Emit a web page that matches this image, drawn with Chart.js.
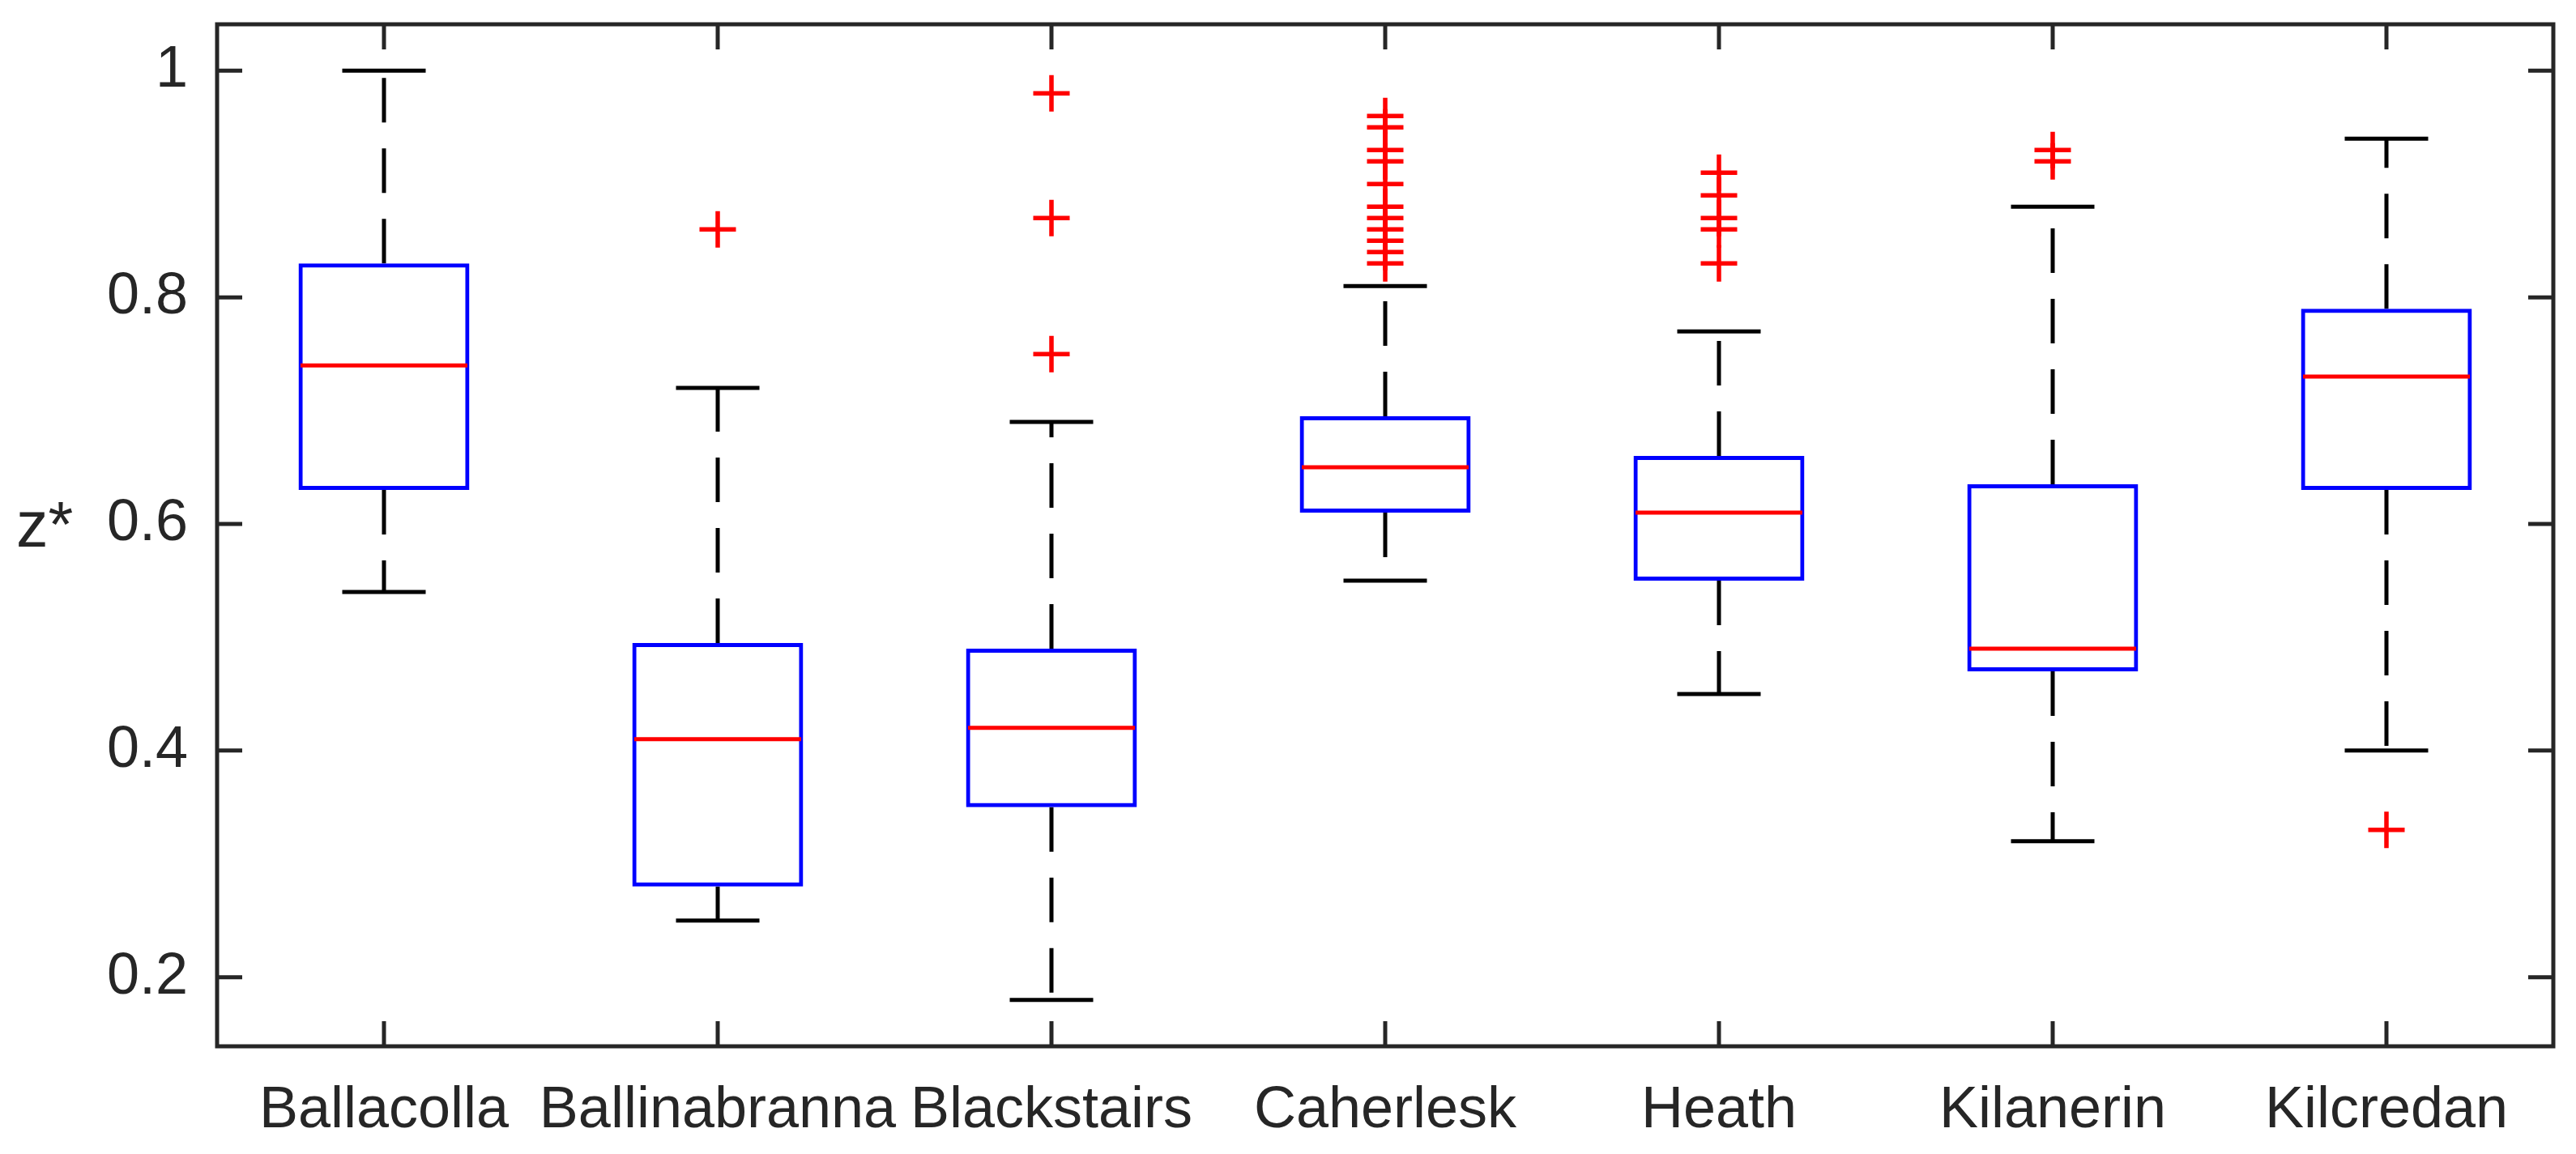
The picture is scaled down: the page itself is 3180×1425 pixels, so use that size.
<!DOCTYPE html>
<html>
<head>
<meta charset="utf-8">
<title>z* por sitio</title>
<script src="https://cdn.jsdelivr.net/npm/chart.js@4.4.1/dist/chart.umd.min.js"></script>
<style>
  html, body { margin: 0; padding: 0; background: #fff; }
  #wrap { width: 3180px; height: 1425px; }
</style>
</head>
<body>
<div id="wrap"><canvas id="chart-box"></canvas></div>
<script>
// Datos del diagrama de cajas
const sites = ['Ballacolla', 'Ballinabranna', 'Blackstairs', 'Caherlesk', 'Heath', 'Kilanerin', 'Kilcredan'];
const whiskerLow  = [0.54, 0.25, 0.18, 0.55, 0.45, 0.32, 0.40];
const q1          = [0.63, 0.28, 0.35, 0.61, 0.55, 0.47, 0.63];
const median      = [0.74, 0.41, 0.42, 0.65, 0.61, 0.49, 0.73];
const q3          = [0.83, 0.495, 0.49, 0.695, 0.66, 0.635, 0.79];
const whiskerHigh = [1.00, 0.72, 0.69, 0.81, 0.77, 0.88, 0.94];
const outliers = [
    [],
    [0.86],
    [0.75, 0.87, 0.98],
    [0.83, 0.84, 0.85, 0.86, 0.87, 0.88, 0.90, 0.92, 0.93, 0.95, 0.96],
    [0.83, 0.86, 0.87, 0.89, 0.91],
    [0.92, 0.93],
    [0.33]
];
const yTicks = [0.2, 0.4, 0.6, 0.8, 1];
const yLimits = [0.139, 1.041];

const FONT = '"Liberation Sans", Arial, Helvetica, sans-serif';
const TEXT = '#262626';
const capHalf = 0.125;
const boxHalf = 0.25;
const LW = 5;

// Bigotes, topes, medianas, marco y ticks hacia dentro
const boxParts = {
    id: 'boxParts',
    beforeDatasetsDraw(chart) {
        const { ctx, scales: { x, y } } = chart;
        ctx.save();
        ctx.strokeStyle = '#000';
        ctx.lineWidth = LW;
        sites.forEach((s, i) => {
            const px = x.getPixelForValue(i + 1);
            ctx.setLineDash([55, 32]);
            ctx.beginPath();
            ctx.moveTo(px, y.getPixelForValue(q3[i]));
            ctx.lineTo(px, y.getPixelForValue(whiskerHigh[i]));
            ctx.stroke();
            ctx.beginPath();
            ctx.moveTo(px, y.getPixelForValue(q1[i]));
            ctx.lineTo(px, y.getPixelForValue(whiskerLow[i]));
            ctx.stroke();
            ctx.setLineDash([]);
            const l = x.getPixelForValue(i + 1 - capHalf);
            const r = x.getPixelForValue(i + 1 + capHalf);
            [whiskerHigh[i], whiskerLow[i]].forEach(v => {
                const py = y.getPixelForValue(v);
                ctx.beginPath();
                ctx.moveTo(l, py);
                ctx.lineTo(r, py);
                ctx.stroke();
            });
        });
        ctx.restore();
    },
    afterDatasetsDraw(chart) {
        const { ctx, scales: { x, y } } = chart;
        ctx.save();
        ctx.strokeStyle = '#ff0000';
        ctx.lineWidth = LW;
        median.forEach((m, i) => {
            const py = y.getPixelForValue(m);
            ctx.beginPath();
            ctx.moveTo(x.getPixelForValue(i + 1 - boxHalf), py);
            ctx.lineTo(x.getPixelForValue(i + 1 + boxHalf), py);
            ctx.stroke();
        });
        ctx.restore();
    },
    afterDraw(chart) {
        const { ctx, chartArea: a, scales: { x, y } } = chart;
        ctx.save();
        ctx.strokeStyle = TEXT;
        ctx.lineWidth = LW;
        const tick = 31;
        yTicks.forEach(v => {
            const py = y.getPixelForValue(v);
            ctx.beginPath();
            ctx.moveTo(a.left, py); ctx.lineTo(a.left + tick, py);
            ctx.moveTo(a.right, py); ctx.lineTo(a.right - tick, py);
            ctx.stroke();
        });
        sites.forEach((s, i) => {
            const px = x.getPixelForValue(i + 1);
            ctx.beginPath();
            ctx.moveTo(px, a.bottom); ctx.lineTo(px, a.bottom - tick);
            ctx.moveTo(px, a.top); ctx.lineTo(px, a.top + tick);
            ctx.stroke();
        });
        ctx.strokeRect(a.left, a.top, a.right - a.left, a.bottom - a.top);
        // Etiqueta del eje Y (horizontal, como en MATLAB)
        ctx.fillStyle = TEXT;
        ctx.font = '79px ' + FONT;
        ctx.textAlign = 'left';
        ctx.textBaseline = 'middle';
        ctx.fillText('z*', 20, (a.top + a.bottom) / 2 - 8);
        ctx.restore();
    }
};

const ctxBox = document.getElementById('chart-box').getContext('2d');
new Chart(ctxBox, {
    type: 'bar',
    data: {
        datasets: [{
            label: 'Caja',
            data: sites.map((s, i) => ({ x: i + 1, y: [q1[i], q3[i]] })),
            backgroundColor: 'rgba(0,0,0,0)',
            borderColor: '#0000ff',
            borderWidth: LW,
            borderSkipped: false,
            categoryPercentage: 1,
            barPercentage: 0.512
        }, {
            type: 'scatter',
            label: 'Atípicos',
            data: outliers.flatMap((list, i) => list.map(v => ({ x: i + 1, y: v }))),
            pointStyle: 'cross',
            pointRadius: 22.5,
            pointHoverRadius: 22.5,
            pointBorderWidth: 5.5,
            pointBorderColor: '#ff0000',
            pointBackgroundColor: '#ff0000'
        }]
    },
    options: {
        responsive: true,
        maintainAspectRatio: false,
        animation: false,
        events: [],
        layout: { padding: { left: 0, right: 20, top: 30, bottom: 0 } },
        plugins: {
            legend: { display: false },
            tooltip: { enabled: false }
        },
        scales: {
            x: {
                type: 'linear',
                min: 0.5,
                max: 7.5,
                offset: false,
                grid: { display: false, drawTicks: false, offset: false },
                border: { display: false },
                afterBuildTicks: scale => { scale.ticks = sites.map((s, i) => ({ value: i + 1 })); },
                afterFit: scale => { scale.height = 133; scale.paddingLeft = 0; scale.paddingRight = 0; },
                ticks: {
                    autoSkip: false,
                    maxRotation: 0,
                    minRotation: 0,
                    padding: 37,
                    color: TEXT,
                    font: { family: FONT, size: 72 },
                    callback: value => sites[Math.round(value) - 1]
                }
            },
            y: {
                min: yLimits[0],
                max: yLimits[1],
                grid: { display: false, drawTicks: false },
                border: { display: false },
                afterBuildTicks: scale => { scale.ticks = yTicks.map(v => ({ value: v })); },
                afterFit: scale => { scale.width = 268; scale.paddingTop = 0; scale.paddingBottom = 0; },
                ticks: {
                    padding: 36,
                    color: TEXT,
                    font: { family: FONT, size: 72 },
                    callback: value => String(+value.toFixed(1))
                }
            }
        }
    },
    plugins: [boxParts]
});
</script>
</body>
</html>
